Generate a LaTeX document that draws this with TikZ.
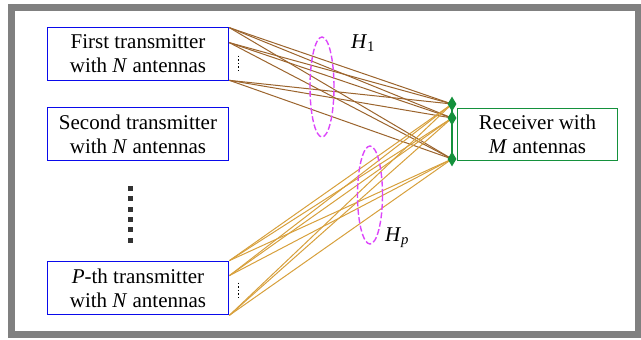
\documentclass[tikz,border=0pt]{standalone}
\usepackage{fontspec}
\setmainfont{Liberation Serif}
\usepackage{tikz}
\usetikzlibrary{shapes.geometric,positioning}
\definecolor{tx-blue}{RGB}{10,10,235}
\definecolor{rx-green}{RGB}{20,145,60}
\definecolor{link-brown}{RGB}{155,100,45}
\definecolor{link-gold}{RGB}{215,160,60}
\definecolor{grp-magenta}{RGB}{220,70,250}
\definecolor{frame-gray}{RGB}{128,128,128}

\begin{document}
\begin{tikzpicture}[x=1pt, y=-1pt,
    txbox/.style={rectangle, draw=tx-blue, line width=1.7pt, minimum width=181pt, minimum height=53pt, align=center, font=\fontsize{21}{24}\selectfont},
    rxbox/.style={rectangle, draw=rx-green, line width=1.7pt, minimum width=160pt, minimum height=52pt, align=center, font=\fontsize{21}{24}\selectfont},
    ant/.style={diamond, fill=rx-green, inner sep=0pt, minimum width=9pt, minimum height=15pt},
    link1/.style={link-brown, line width=1pt},
    linkp/.style={link-gold, line width=1pt},
    group/.style={grp-magenta, line width=1.4pt, dash pattern=on 6pt off 2.5pt},
    lbl/.style={font=\fontsize{21}{24}\selectfont}]

    \useasboundingbox (0,0) rectangle (641,340);
    \draw[frame-gray, line width=7pt] (11,7) rectangle (638,334.5);

    % Transmitters
    \node[txbox] (tx1) at (138,54) {First transmitter\\with \textit{N} antennas};
    \node[txbox] (tx2) at (138,134) {Second transmitter\\with \textit{N} antennas};
    \node[txbox] (txp) at (138,288) {\textit{P}-th transmitter\\with \textit{N} antennas};

    % Receiver
    \node[rxbox] (rx) at (537.5,134.5) {Receiver with\\\textit{M} antennas};

    % Antennas
    \coordinate (a11) at ([yshift=-1pt]tx1.north east);
    \coordinate (a12) at ([yshift=-16pt]tx1.north east);
    \coordinate (a13) at ([yshift=1pt]tx1.south east);
    \coordinate (ap1) at (txp.north east);
    \coordinate (ap2) at ([yshift=-15pt]txp.north east);
    \coordinate (ap3) at (txp.south east);
    \coordinate (r1) at (452,104);
    \coordinate (r2) at (452,118);
    \coordinate (r3) at (452,159);

    % Channels
    \foreach \s in {a11,a12,a13}
        \foreach \r in {r1,r2,r3}
            \draw[link1] (\s) -- (\r);
    \foreach \s in {ap1,ap2,ap3}
        \foreach \r in {r1,r2,r3}
            \draw[linkp] (\s) -- (\r);

    \draw[rx-green, line width=1.6pt] (r1) -- (r3);
    \foreach \r in {1,2,3}
        \node[ant] (d\r) at (r\r) {};

    % Groups
    \draw[group] (322,87) ellipse (12pt and 50pt);
    \draw[group] (370,195) ellipse (12.5pt and 49pt);
    \node[lbl] (h1) at (363,43) {\textit{H}\textsubscript{1}};
    \node[lbl] (hp) at (397,238) {\textit{H}\textsubscript{\textit{p}}};

    % Dots
    \draw[line width=1.6pt, dotted] ([xshift=9pt,yshift=-29pt]tx1.north east) -- ++(0,15);
    \draw[line width=1.6pt, dotted] ([xshift=9pt,yshift=-22pt]txp.north east) -- ++(0,15);
    \foreach \k in {0,...,5}
        \fill[black!80] (127.5,186+\k*10.3) rectangle ++(5,5);
\end{tikzpicture}
\end{document}
